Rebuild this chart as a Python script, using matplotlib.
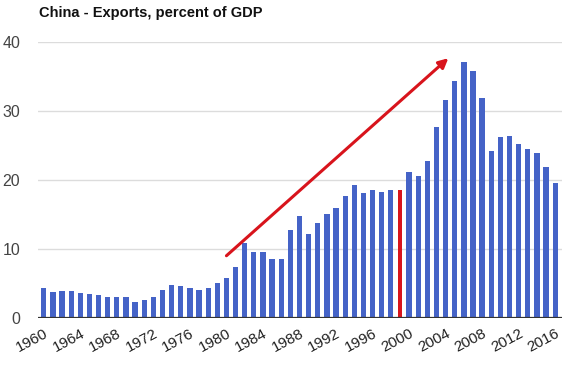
import matplotlib
matplotlib.use("Agg")
import matplotlib.pyplot as plt

plt.rcParams['font.family'] = ['Liberation Sans', 'DejaVu Sans']

# China exports, % of GDP
years = list(range(1960, 2017))
exports = [4.3, 3.8, 3.9, 3.9, 3.6, 3.5, 3.3, 3.1, 3.1, 3.0,
           2.3, 2.6, 3.1, 4.1, 4.8, 4.6, 4.4, 4.1, 4.4, 5.1,
           5.8, 7.4, 10.9, 9.5, 9.5, 8.5, 8.6, 12.7, 14.7, 12.2,
           13.8, 15.1, 15.9, 17.7, 19.2, 18.1, 18.5, 18.3, 18.5, 18.5,
           21.1, 20.6, 22.7, 27.7, 31.5, 34.3, 37.1, 35.8, 31.9, 24.2,
           26.2, 26.3, 25.2, 24.4, 23.9, 21.8, 19.5]
highlight_year = 1999
tick_years = years[::4]
arrow_start = (1980, 9.0)
arrow_end = (2004.3, 37.6)

blue = '#4563c7'
red = '#d8141c'

fig = plt.figure(figsize=(5.76, 3.65), dpi=100)
ax = fig.add_axes([0.0665, 0.129, 0.9085, 0.757])

colors = [red if y == highlight_year else blue for y in years]
widths = [0.42 if y == highlight_year else 0.58 for y in years]
ax.bar(years, exports, width=widths, color=colors, zorder=2)

ax.set_xlim(years[0] - 0.6, years[-1] + 0.7)
ax.set_ylim(0, 40)
ax.set_yticks([0, 10, 20, 30, 40])
ax.grid(axis='y', color='#dcdcdc', linewidth=1, zorder=0)
ax.axhline(0, color='#333333', linewidth=1.6, zorder=3)

ax.set_xticks(tick_years)
ax.set_xticklabels([str(y) for y in tick_years], rotation=28, ha='right',
                   rotation_mode='anchor', fontsize=11, color='#222222')
ax.tick_params(axis='x', length=0, pad=6)
ax.tick_params(axis='y', length=0, labelsize=11.5, labelcolor='#444444', pad=13)

for s in ax.spines.values():
    s.set_visible(False)

ax.annotate('', xy=arrow_end, xytext=arrow_start,
            arrowprops=dict(arrowstyle='-|>', color=red, lw=2.2,
                            mutation_scale=14, shrinkA=0, shrinkB=0),
            zorder=5)

fig.text(0.067, 0.965, 'China - Exports, percent of GDP', fontsize=10.5,
         fontweight='bold', color='#111111', va='center', ha='left')

fig.savefig('out.png', dpi=100)
